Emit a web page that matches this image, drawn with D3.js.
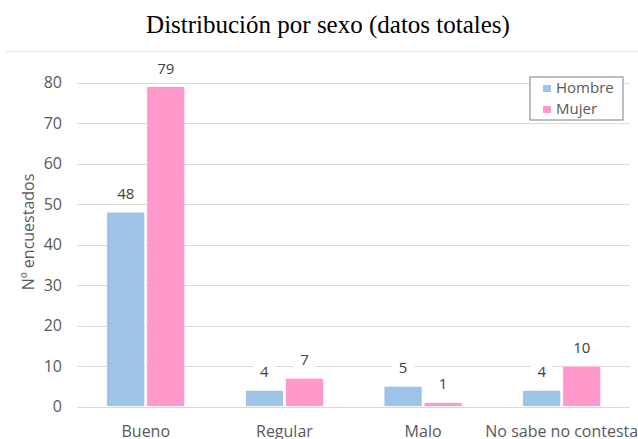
<!DOCTYPE html>
<html>
<head>
<meta charset="utf-8">
<script src="https://cdn.jsdelivr.net/npm/d3@7"></script>
<style>
  body { margin: 0; background: #fff; }
  text { font-family: "Open Sans", "Liberation Sans", sans-serif; }
</style>
</head>
<body>
<div class="chart"></div>
<script>
// Distribución por sexo (datos totales)

var categories = ["Bueno", "Regular", "Malo", "No sabe no contesta"];
var series = ["Hombre", "Mujer"];
var hombre = [48, 4, 5, 4];
var mujer = [79, 7, 1, 10];
var yTicks = [0, 10, 20, 30, 40, 50, 60, 70, 80];

var colors = {Hombre: "#9dc3e6", Mujer: "#ff99cc"};

var width = 638,
    height = 439;

var svg = d3.select(".chart").append("svg")
    .attr("width", width)
    .attr("height", height);

/* title */
svg.append("text")
    .attr("x", 328)
    .attr("y", 33)
    .attr("text-anchor", "middle")
    .style("font-family", "'Liberation Serif', 'DejaVu Serif', serif")
    .style("font-size", "25px")
    .attr("fill", "#000")
    .text("Distribución por sexo (datos totales)");

svg.append("line")
    .attr("x1", 6).attr("x2", 638)
    .attr("y1", 51.5).attr("y2", 51.5)
    .attr("stroke", "#e3e3e3");

/* scales */
var x = d3.scaleBand().domain(categories).range([76.5, 631]).paddingInner(0.437).paddingOuter(0.218);
var xs = d3.scaleBand().domain(series).range([0, x.bandwidth()]).paddingInner(0.05);
var y = d3.scaleLinear().domain([0, 80]).range([406.5, 82.5]);

/* grid */
svg.append("g")
    .selectAll("line")
    .data(yTicks)
    .join("line")
    .attr("x1", 77).attr("x2", 630)
    .attr("y1", function(d) { return Math.round(y(d)) + 0.5; })
    .attr("y2", function(d) { return Math.round(y(d)) + 0.5; })
    .attr("stroke", "#d9d9d9")
    .attr("stroke-width", 1);

// y axis labels
var yAxis = svg.append("g")
    .attr("transform", "translate(62,0)")
    .call(d3.axisLeft(y).tickValues(yTicks).tickSize(0).tickPadding(0));
yAxis.select(".domain").remove();
yAxis.selectAll("text")
    .style("font-size", "16px")
    .style("font-family", "'Open Sans', 'Liberation Sans', sans-serif")
    .attr("fill", "#595959");

svg.append("text")
    .attr("transform", "translate(34,232) rotate(-90)")
    .attr("text-anchor", "middle")
    .style("font-size", "16px")
    .attr("fill", "#595959")
    .text("Nº encuestados");

/* x axis labels */
var xAxis = svg.append("g")
    .attr("transform", "translate(0,437)")
    .call(d3.axisBottom(x).tickSize(0).tickPadding(0));
xAxis.select(".domain").remove();
xAxis.selectAll("text")
    .attr("y", 0)
    .attr("dy", 0)
    .style("font-size", "16px")
    .style("font-family", "'Open Sans', 'Liberation Sans', sans-serif")
    .attr("fill", "#595959");

/* bars */
var rows = categories.map(function(c, i) {
    return {cat: c, values: [{s: "Hombre", v: hombre[i]}, {s: "Mujer", v: mujer[i]}]};
});

var groups = svg.append("g")
    .selectAll("g")
    .data(rows)
    .join("g")
    .attr("transform", function(d) { return "translate(" + x(d.cat) + ",0)"; });

groups.selectAll("rect")
    .data(function(d) { return d.values; })
    .join("rect")
    .attr("x", function(d) { return xs(d.s); })
    .attr("width", xs.bandwidth())
    .attr("y", function(d) { return y(d.v); })
    .attr("height", function(d) { return y(0) - y(d.v); })
    .attr("fill", function(d) { return colors[d.s]; })
    .attr("stroke", "#fff")
    .attr("stroke-width", 0.75);

// value labels with white background
var labels = groups.selectAll("g.lbl")
    .data(function(d) { return d.values; })
    .join("g")
    .attr("class", "lbl")
    .attr("transform", function(d) {
        return "translate(" + (xs(d.s) + xs.bandwidth() / 2) + "," + (y(d.v) - 13) + ")";
    });

labels.append("rect")
    .attr("x", function(d) { return -String(d.v).length * 5 - 6; })
    .attr("width", function(d) { return String(d.v).length * 10 + 12; })
    .attr("y", -16)
    .attr("height", 21)
    .attr("fill", "#fff");

labels.append("text")
    .attr("text-anchor", "middle")
    .style("font-size", "15px")
    .attr("fill", "#404040")
    .text(function(d) { return d.v; });

/* legend */
var legend = svg.append("g").attr("transform", "translate(530,77)");
legend.append("rect")
    .attr("width", 93).attr("height", 43)
    .attr("fill", "#fff")
    .attr("stroke", "#7f7f7f")
    .attr("stroke-width", 1);

var items = legend.selectAll("g")
    .data(series)
    .join("g")
    .attr("transform", function(d, i) { return "translate(13," + (11 + i * 21) + ")"; });

items.append("rect")
    .attr("x", 0).attr("y", -3)
    .attr("width", 8).attr("height", 7)
    .attr("fill", function(d) { return colors[d]; });

items.append("text")
    .attr("x", 13)
    .attr("y", 5)
    .style("font-size", "15px")
    .attr("fill", "#595959")
    .text(function(d) { return d; });
</script>
</body>
</html>
